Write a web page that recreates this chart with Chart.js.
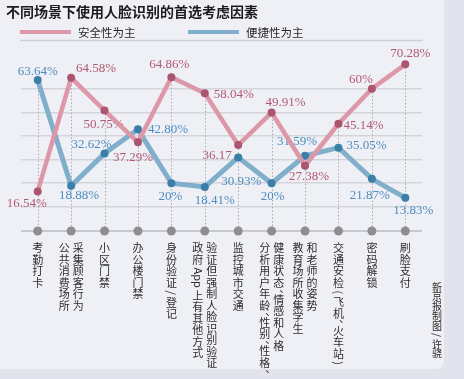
<!DOCTYPE html>
<html><head><meta charset="utf-8">
<script src="https://cdn.jsdelivr.net/npm/chart.js@4/dist/chart.umd.min.js"></script>
<style>html,body{margin:0;padding:0;background:#e3e3ed}canvas{display:block}</style>
</head><body>
<canvas id="c" width="464" height="379"></canvas>
<script>
// ---- data ----
const chartTitle = "不同场景下使用人脸识别的首选考虑因素";
const seriesNames = ["安全性为主", "便捷性为主"];
// each category: columns of vertical text, left to right
const categories = [
  ["考勤打卡"],
  ["公共消费场所", "采集顾客行为"],
  ["小区门禁"],
  ["办公楼门禁"],
  ["身份验证/登记"],
  ["政府App上有其他方式", "验证但强制人脸识别验证"],
  ["监控城市交通"],
  ["分析用户年龄、性别、性格、", "健康状态、情感和人格"],
  ["教育场所收集学生", "和老师的姿势"],
  ["交通安检(飞机、火车站)"],
  ["密码解锁"],
  ["刷脸支付"]
];
const safetyValues = [16.54, 64.58, 50.75, 37.29, 64.86, 58.04, 36.17, 49.91, 27.38, 45.14, 60, 70.28];
const convenienceValues = [63.64, 18.88, 32.62, 42.80, 20, 18.41, 30.93, 20, 31.59, 35.05, 21.87, 13.83];
const gridValues = [10, 20, 30, 40, 50, 60, 70];
const credit = "新京报制图/许骁";

// ---- styling ----
const pinkLine = '#dc98a8', pinkPoint = '#a9566e', pinkText = '#b4586f';
const blueLine = '#80aecb', bluePoint = '#3b7fa8', blueText = '#4d8dbf';
// label offsets (dx, dy) relative to each point
const pinkOffsets = [[-11,12],[25,-9],[-1,14],[-5,15],[-2,-13],[29,1],[-21,11],[14,-10],[4,11],[25,2],[-11,-9],[5,-10.5]];
const blueOffsets = [[0,-8.5],[8,10],[-13,-9],[30,0],[-1,13],[10,14],[3,24],[1,13.5],[-8,-14],[28,-2],[-2,17],[8,13]];
const pinkNoPct = [6];

function fmt(v){ return Number.isInteger(v) ? String(v) : v.toFixed(2); }

function drawVertical(ctx, str, x, top, pitch){
  let cur = top;
  let i = 0;
  while (i < str.length){
    const ch = str[i];
    if (/[A-Za-z0-9]/.test(ch)){
      let j = i; while (j < str.length && /[A-Za-z0-9]/.test(str[j])) j++;
      const tok = str.slice(i, j);
      const w = ctx.measureText(tok).width;
      ctx.save(); ctx.translate(x, cur + 2 + w/2); ctx.rotate(Math.PI/2);
      ctx.fillText(tok, 0, 0); ctx.restore();
      cur += w + 4; i = j; continue;
    }
    if (ch === '(' || ch === ')' || ch === '/'){
      const w = ctx.measureText(ch).width;
      ctx.save(); ctx.translate(x, cur + 2 + w/2); ctx.rotate(Math.PI/2);
      ctx.fillText(ch, 0, 0); ctx.restore();
      cur += w + 4; i++; continue;
    }
    if (ch === '、'){
      ctx.fillText(ch, x + 6, cur - 1);
      cur += 5.5; i++; continue;
    }
    ctx.fillText(ch, x, cur + pitch/2);
    cur += pitch; i++;
  }
}

const deco = {
  id: 'deco',
  beforeDraw(chart){
    const c = chart.ctx;
    c.save();
    c.fillStyle = '#e3e3ed'; c.fillRect(0, 0, chart.width, chart.height);
    c.fillStyle = '#eff0f6';
    c.beginPath(); c.roundRect(0, 0, 444, 369, [0, 0, 8, 0]); c.fill();
    c.restore();
  },
  beforeDatasetsDraw(chart){
    const c = chart.ctx, xs = chart.scales.x, ys = chart.scales.y;
    const y0 = ys.getPixelForValue(0) + 0.5;
    c.save();
    // dotted drop lines
    c.strokeStyle = '#a9a9ae'; c.lineWidth = 1; c.setLineDash([1.5, 2]);
    categories.forEach((_, i) => {
      const x = Math.round(xs.getPixelForValue(i)) + 0.5;
      const top = ys.getPixelForValue(Math.max(safetyValues[i], convenienceValues[i]));
      c.beginPath(); c.moveTo(x, top); c.lineTo(x, y0); c.stroke();
    });
    c.setLineDash([]);
    // axis dots
    c.fillStyle = '#8d8d92';
    categories.forEach((_, i) => {
      c.beginPath(); c.arc(xs.getPixelForValue(i), y0, 4.5, 0, Math.PI*2); c.fill();
    });
    // value labels
    c.font = '13px "Liberation Serif", "DejaVu Serif", serif';
    c.textAlign = 'center'; c.textBaseline = 'middle';
    const m0 = chart.getDatasetMeta(0), m1 = chart.getDatasetMeta(1);
    c.fillStyle = pinkText;
    m0.data.forEach((p, i) => {
      const t = fmt(safetyValues[i]) + (pinkNoPct.includes(i) ? '' : '%');
      c.fillText(t, p.x + pinkOffsets[i][0], p.y + pinkOffsets[i][1]);
    });
    c.fillStyle = blueText;
    m1.data.forEach((p, i) => {
      c.fillText(fmt(convenienceValues[i]) + '%', p.x + blueOffsets[i][0], p.y + blueOffsets[i][1]);
    });
    c.restore();
  },
  afterDraw(chart){
    const c = chart.ctx, xs = chart.scales.x;
    c.save();
    // title
    c.fillStyle = '#1c1c1c';
    c.font = 'bold 14px "Noto Sans CJK SC", sans-serif';
    c.textAlign = 'left'; c.textBaseline = 'middle';
    c.fillText(chartTitle, 6, 12);
    // legend
    const legendX = [20, 188];
    const cols = [pinkLine, blueLine];
    c.font = '11.5px "Noto Sans CJK SC", sans-serif';
    seriesNames.forEach((n, k) => {
      c.strokeStyle = cols[k]; c.lineWidth = 4;
      c.beginPath(); c.moveTo(legendX[k], 32); c.lineTo(legendX[k] + 51, 32); c.stroke();
      c.fillStyle = '#2a2a2a';
      c.fillText(n, legendX[k] + 58, 32.5);
    });
    // separator
    c.strokeStyle = '#cfd0d5'; c.lineWidth = 1.5;
    c.beginPath(); c.moveTo(20, 40.5); c.lineTo(423, 40.5); c.stroke();
    // category labels
    c.fillStyle = '#2e2e2e';
    c.font = '11px "Noto Sans CJK SC", sans-serif';
    c.textAlign = 'center'; c.textBaseline = 'middle';
    categories.forEach((colsTxt, i) => {
      const cx = xs.getPixelForValue(i);
      const n = colsTxt.length;
      colsTxt.forEach((s, k) => {
        const x = cx + (k - (n - 1)/2) * 14;
        drawVertical(c, s, x, 242.5, 11.5);
      });
    });
    // credit
    c.font = '10px "Noto Sans CJK SC", sans-serif';
    drawVertical(c, credit, 437, 282, 9.8);
    c.restore();
  }
};

new Chart(document.getElementById('c'), {
  type: 'line',
  data: {
    labels: categories.map(c => c.join('')),
    datasets: [
      { label: seriesNames[0], data: safetyValues, borderColor: pinkLine, borderWidth: 4.5,
        pointRadius: 4, pointBackgroundColor: pinkPoint, pointBorderWidth: 0, tension: 0, clip: false },
      { label: seriesNames[1], data: convenienceValues, borderColor: blueLine, borderWidth: 5,
        pointRadius: 4, pointBackgroundColor: bluePoint, pointBorderWidth: 0, tension: 0, clip: false }
    ]
  },
  options: {
    responsive: false, animation: false, devicePixelRatio: 1,
    layout: { padding: { left: 21, right: 42, top: 53.2, bottom: 148.5 } },
    plugins: { legend: { display: false }, tooltip: { enabled: false }, title: { display: false } },
    scales: {
      x: { type: 'category', offset: true, display: false },
      y: {
        min: 0, max: 75,
        ticks: { display: false, stepSize: 10 },
        border: { display: false },
        grid: {
          drawTicks: false,
          color: ctx => ctx.tick.value === 0 ? '#c8c9ce' : (gridValues.includes(ctx.tick.value) ? '#d4d5da' : 'rgba(0,0,0,0)'),
          lineWidth: ctx => ctx.tick.value === 0 ? 2 : 1.5
        },
        afterFit(s){ s.width = 0; }
      }
    }
  },
  plugins: [deco]
});
</script>
</body></html>
